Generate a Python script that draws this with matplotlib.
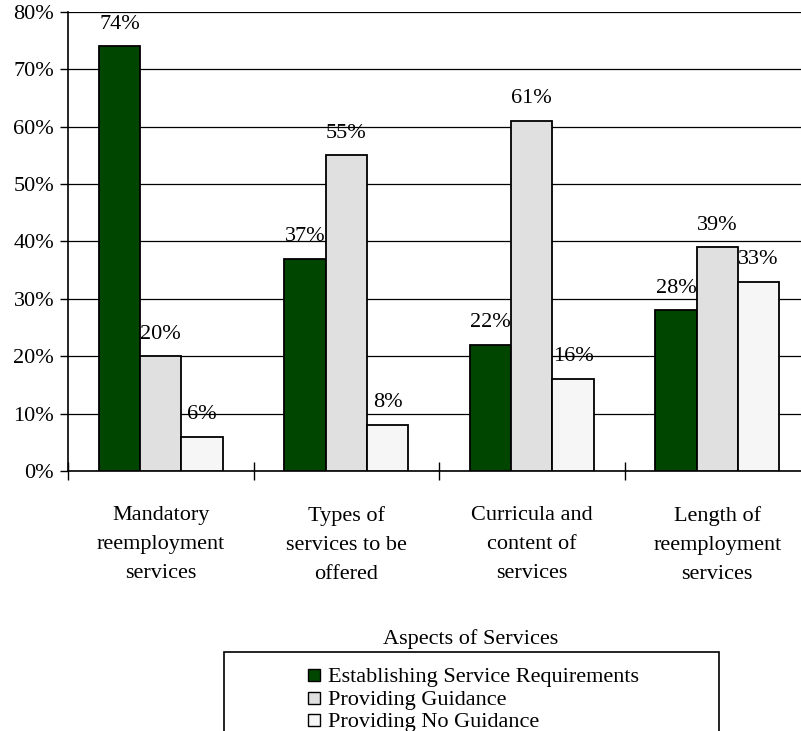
import matplotlib
matplotlib.use("Agg")
import matplotlib.pyplot as plt
from matplotlib.patches import Rectangle
import numpy as np

plt.rcParams['font.family'] = ['Liberation Serif', 'DejaVu Serif']

categories = [
    "Mandatory\nreemployment\nservices",
    "Types of\nservices to be\noffered",
    "Curricula and\ncontent of\nservices",
    "Length of\nreemployment\nservices",
]
series_names = [
    "Establishing Service Requirements",
    "Providing Guidance",
    "Providing No Guidance",
]
establishing = [74, 37, 22, 28]
guidance = [20, 55, 61, 39]
no_guidance = [6, 8, 16, 33]
series_values = [establishing, guidance, no_guidance]
series_colors = ["#004600", "#e0e0e0", "#f6f6f6"]
y_ticks = [0, 10, 20, 30, 40, 50, 60, 70, 80]
axis_title = "Aspects of Services"

W, H = 801, 731
fig = plt.figure(figsize=(W / 100, H / 100), dpi=100)

# axes: left edge at x=68 px, baseline at y=471 px, extends past right edge
ax_left, ax_right, ax_top, ax_bottom = 68, 810, 12, 471
ax = fig.add_axes([ax_left / W, 1 - ax_bottom / H,
                   (ax_right - ax_left) / W, (ax_bottom - ax_top) / H])

n = len(categories)
centers = np.arange(n) + 0.5
bw = 0.223
offsets = [-bw, 0, bw]

for vals, color, off, name in zip(series_values, series_colors, offsets, series_names):
    bars = ax.bar(centers + off, vals, width=bw, color=color,
                  edgecolor="black", linewidth=1.3, zorder=3, label=name)
    for b, v in zip(bars, vals):
        ax.annotate(f"{v}%", (b.get_x() + b.get_width() / 2, v),
                    xytext=(0, 16), textcoords="offset points",
                    ha="center", va="center", fontsize=16, zorder=4)

ax.set_xlim(0, n)
ax.set_ylim(0, 80)
ax.set_yticks(y_ticks)
ax.set_yticklabels([f"{t}%" for t in y_ticks], fontsize=16)
ax.yaxis.grid(True, color="black", linewidth=0.9, zorder=0)
ax.set_axisbelow(True)

# major x ticks at category boundaries, labels on minor ticks at centers
ax.set_xticks(np.arange(n + 1))
ax.set_xticklabels([])
ax.set_xticks(centers, minor=True)
ax.set_xticklabels(categories, minor=True, fontsize=16, linespacing=1.72)
ax.tick_params(axis="x", which="major", direction="inout", length=13, width=1)
ax.tick_params(axis="x", which="minor", length=0, pad=25)
ax.tick_params(axis="y", direction="out", length=6, width=1, pad=4)

for s in ["top", "right"]:
    ax.spines[s].set_visible(False)
for s in ["left", "bottom"]:
    ax.spines[s].set_linewidth(1.2)

# axis title above the legend box
fig.text(471 / W, 1 - 639 / H, axis_title, ha="center", va="center", fontsize=16)

# legend box (runs off the bottom of the figure)
box_l, box_r, box_t = 224, 719, 652
fig.patches.append(Rectangle((box_l / W, 1 - (box_t + 120) / H),
                             (box_r - box_l) / W, 120 / H,
                             transform=fig.transFigure, fill=False,
                             edgecolor="black", linewidth=1.2, zorder=5))
sq = 12
for i, (name, color) in enumerate(zip(series_names, series_colors)):
    yc = 675 + 22.5 * i
    fig.patches.append(Rectangle((308 / W, 1 - (yc + sq / 2) / H),
                                 sq / W, sq / H, transform=fig.transFigure,
                                 facecolor=color, edgecolor="black",
                                 linewidth=1.0, zorder=6))
    fig.text(328 / W, 1 - yc / H, name, ha="left", va="center_baseline",
             fontsize=16)

fig.savefig("out.png", dpi=100)
